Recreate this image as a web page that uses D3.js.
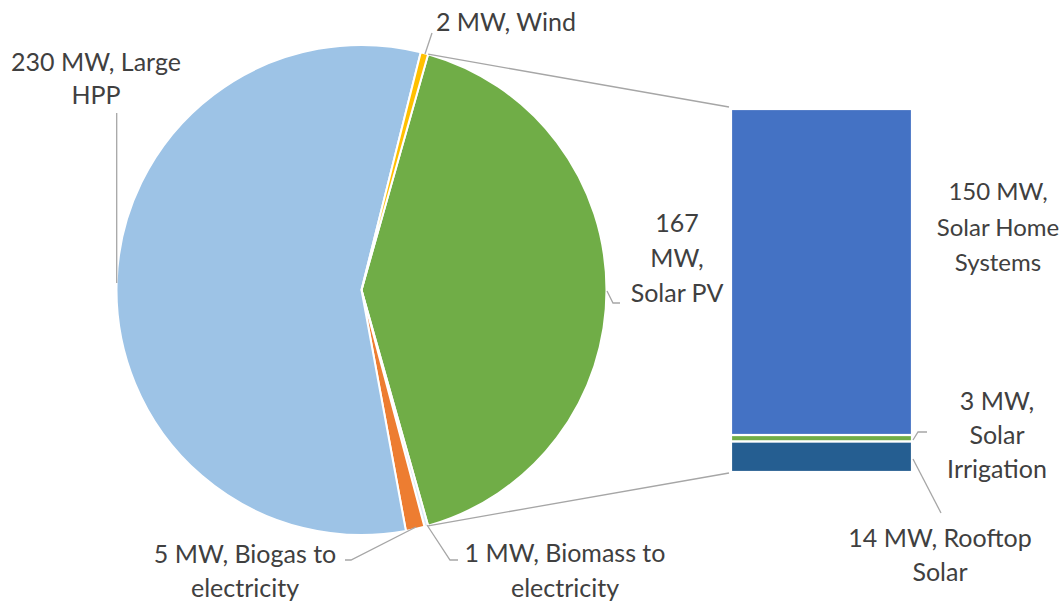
<!DOCTYPE html>
<html><head><meta charset="utf-8">
<script src="https://cdn.jsdelivr.net/npm/d3@7"></script>
<style>body{margin:0;background:#fff}svg{display:block}text{font-family:Lato,"Open Sans",sans-serif;fill:#404040;font-size:25px}</style>
</head><body>
<svg id="c" width="1062" height="601"></svg>
<script>
// Pie data (clockwise starting from the split slice)
const pieNames = ["Solar PV", "Biomass to electricity", "Biogas to electricity", "Large HPP", "Wind"];
const pieValues = [167, 1, 5, 230, 2];
const pieColors = ["#70AD47", "#DDEBF7", "#ED7D31", "#9DC3E6", "#FFC000"];
// Bar (breakdown of Solar PV), top to bottom
const barNames = ["Solar Home Systems", "Solar Irrigation", "Rooftop Solar"];
const barValues = [150, 3, 14];
const barColors = ["#4472C4", "#70AD47", "#255E91"];

const svg = d3.select("#c");
const cx = 361.5, cy = 290, R = 245;
const total = d3.sum(pieValues);
const splitAng = pieValues[0] / total * 2 * Math.PI;
const start = Math.PI / 2 - splitAng / 2;

const pie = d3.pie().sort(null).value(d => d.v)
  .startAngle(start).endAngle(start + 2 * Math.PI);
const arcs = pie(pieValues.map((v, i) => ({v, i})));
const arc = d3.arc().innerRadius(0).outerRadius(R);
const g = svg.append("g").attr("transform", `translate(${cx},${cy})`);
g.selectAll("path").data(arcs).join("path")
  .attr("d", arc).attr("fill", d => pieColors[d.data.i])
  .attr("stroke", "#fff").attr("stroke-width", 2).attr("stroke-linejoin", "round");

// Bar
const bx0 = 731, bx1 = 912, by0 = 109, by1 = 472;
const y = d3.scaleLinear().domain([0, d3.sum(barValues)]).range([by0, by1]);
let acc = 0;
const segs = barValues.map((v, i) => { const s = {i, a: acc, b: acc + v}; acc += v; return s; });
svg.selectAll("rect.bar").data(segs).join("rect").attr("class", "bar")
  .attr("x", bx0).attr("width", bx1 - bx0)
  .attr("y", d => y(d.a)).attr("height", d => y(d.b) - y(d.a))
  .attr("fill", d => barColors[d.i]).attr("stroke", "#fff").attr("stroke-width", 2.2);

// Connector lines
const pt = a => [cx + R * Math.sin(a), cy - R * Math.cos(a)];
const pTop = pt(arcs[0].startAngle), pBot = pt(arcs[0].endAngle);
const lc = "#A6A6A6";
svg.append("line").attr("x1", pTop[0]).attr("y1", pTop[1]).attr("x2", bx0 - 2).attr("y2", by0 - 2)
  .attr("stroke", lc).attr("stroke-width", 1.3);
svg.append("line").attr("x1", pBot[0]).attr("y1", pBot[1]).attr("x2", bx0 - 2).attr("y2", by1 + 1)
  .attr("stroke", lc).attr("stroke-width", 1.3);

// Leader lines
const leaders = [
  [[116.7, 283], [116.7, 113]],
  [[425, 54], [432, 33]],
  [[607, 291], [613, 303], [620, 303]],
  [[416, 527], [351, 560], [345, 560]],
  [[427, 525], [450, 560], [458, 560]],
  [[913, 440], [918, 432], [927, 432]],
  [[913, 459], [941, 513]]
];
svg.selectAll("polyline").data(leaders).join("polyline")
  .attr("points", d => d.map(p => p.join(",")).join(" "))
  .attr("fill", "none").attr("stroke", lc).attr("stroke-width", 1.3);

// Labels
const fmt = v => v + " MW";
const labels = [
  {x: 96, y: [71, 104], t: [fmt(pieValues[3]) + ", Large", "HPP"]},
  {x: 506, y: [31], t: [fmt(pieValues[4]) + ", Wind"]},
  {x: 677, y: [232, 267, 302], t: [String(pieValues[0]), "MW,", "Solar PV"]},
  {x: 245, y: [563, 597], t: [fmt(pieValues[2]) + ", Biogas to", "electricity"]},
  {x: 565, y: [562, 597], t: [fmt(pieValues[1]) + ", Biomass to", "electricity"]},
  {x: 998, y: [200, 236, 271], t: [fmt(barValues[0]) + ",", "Solar Home", "Systems"], fs: 24},
  {x: 997, y: [410, 444, 478], t: [fmt(barValues[1]) + ",", "Solar", "Irrigation"]},
  {x: 940, y: [547, 581], t: [fmt(barValues[2]) + ", Rooftop", "Solar"]}
];
labels.forEach(l => {
  const t = svg.append("text").attr("text-anchor", "middle");
  if (l.fs) t.style("font-size", l.fs + "px");
  l.t.forEach((s, k) => t.append("tspan").attr("x", l.x).attr("y", l.y[k]).text(s));
});
</script>
</body></html>
